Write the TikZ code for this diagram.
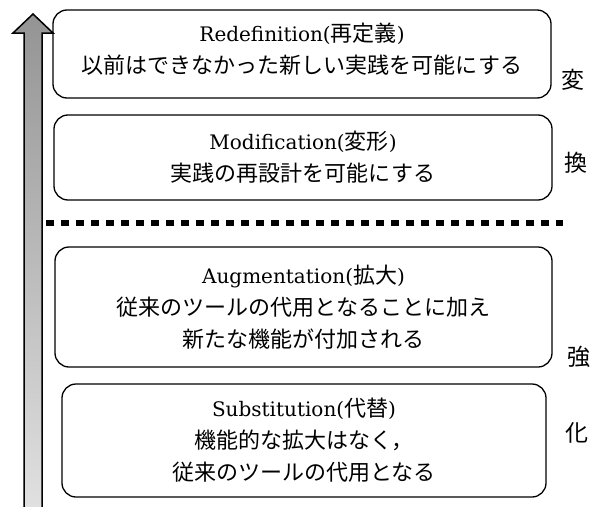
\documentclass[tikz,border=0pt]{standalone}
\usepackage{fontspec}
\setmainfont{DejaVu Serif}
\newfontfamily\jp{Noto Sans CJK JP}
\tikzset{
  lvlbox/.style={draw=black, line width=1.3pt, rounded corners=14pt, rectangle, inner sep=0pt, align=center, font=\fontsize{20}{32}\selectfont},
  sidechar/.style={font=\jp\fontsize{23}{23}\selectfont, inner sep=0pt},
  divider/.style={line width=6.5pt, dash pattern=on 8pt off 7pt},
  bigarrow/.style={draw=black, line width=1.5pt, top color=black!42, bottom color=black!12, line join=miter}
}
\newcommand{\J}[1]{{\jp\fontsize{22}{32}\selectfont #1}}
\begin{document}
\begin{tikzpicture}[x=1pt,y=-1pt]
\useasboundingbox (0,0) rectangle (597,506);
% arrow
\path[bigarrow] (24,508) -- (24,33) -- (13,33) -- (33,14) -- (53,33) -- (42,33) -- (42,508);
% boxes
\node[lvlbox, minimum width=498pt, minimum height=88pt, text depth=12pt] (redef) at (302,54)
  {Redefinition(\J{再定義})\\\J{以前はできなかった新しい実践を可能にする}};
\node[lvlbox, minimum width=498pt, minimum height=85pt] (modif) at (303,157.5)
  {Modification(\J{変形})\\\J{実践の再設計を可能にする}};
\node[lvlbox, minimum width=497pt, minimum height=120pt] (augm) at (303.5,307)
  {Augmentation(\J{拡大})\\\J{従来のツールの代用となることに加え}\\\J{新たな機能が付加される}};
\node[lvlbox, minimum width=484pt, minimum height=113pt] (subst) at (304,440.5)
  {Substitution(\J{代替})\\\J{機能的な拡大はなく，}\\\J{従来のツールの代用となる}};
% divider
\coordinate (dl) at (46,223);
\coordinate (dr) at (563,223);
\draw[divider] (dl) -- (dr);
% side characters
\node[sidechar] (c1) at (573,80) {変};
\node[sidechar] (c2) at (576,163) {換};
\node[sidechar] (c3) at (579,357) {強};
\node[sidechar] (c4) at (577,433) {化};
\end{tikzpicture}
\end{document}
